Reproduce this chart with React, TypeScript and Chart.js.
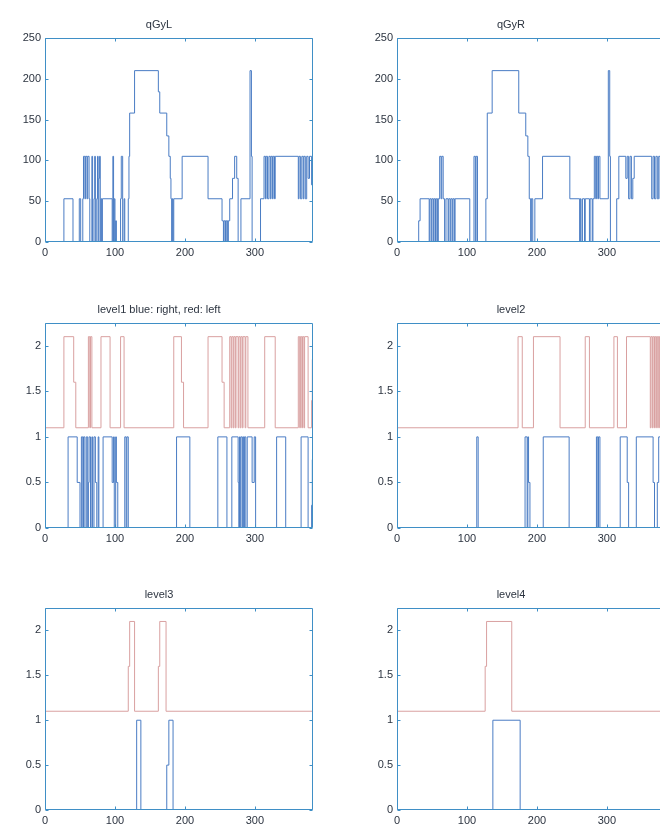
import React, { useEffect, useRef } from "react";
import { Chart, registerables } from "chart.js";

Chart.register(...registerables);

// ---------- data ----------
const X_MAX = 383;
const X_TICKS = [0, 100, 200, 300];
const Q_TICKS = [0, 50, 100, 150, 200, 250];
const LEVEL_TICKS = [0, 0.5, 1, 1.5, 2];

// step series: [x where the value starts, value]
const QGYL: [number, number][] = [
  [0, 0], [27, 53], [40, 0], [49, 53], [51, 0], [54, 53], [55, 105], [57, 53], [58, 105], [60, 53],
  [61, 105], [63, 53], [64, 0], [67, 105], [68, 0], [70, 53], [71, 105], [72, 0], [74, 53], [75, 105],
  [76, 0], [77, 78], [78, 105], [79, 0], [80, 53], [81, 0], [82, 53], [96, 0], [97, 105], [98, 0],
  [99, 53], [100, 0], [101, 26], [102, 0], [108, 53], [109, 105], [111, 0], [113, 53], [114, 0],
  [119, 53], [120, 105], [121, 158], [128, 210], [162, 184], [164, 158], [174, 130], [177, 105],
  [179, 78], [180, 53], [181, 0], [182, 53], [183, 0], [184, 53], [196, 105], [233, 53], [253, 26],
  [255, 0], [256, 26], [258, 0], [259, 26], [261, 0], [262, 26], [264, 53], [268, 78], [271, 105],
  [274, 78], [276, 0], [280, 53], [293, 210], [295, 105], [296, 0], [308, 53], [313, 105], [315, 53],
  [316, 105], [318, 53], [320, 105], [322, 53], [323, 105], [325, 53], [326, 105], [328, 53],
  [329, 105], [362, 53], [363, 105], [365, 53], [367, 105], [369, 53], [370, 105], [372, 53],
  [374, 105], [376, 78], [378, 105], [381, 70], [383, 70],
];

const QGYR: [number, number][] = [
  [0, 0], [31, 26], [33, 53], [46, 0], [47, 53], [49, 0], [50, 53], [52, 0], [53, 53], [55, 0],
  [56, 53], [58, 0], [59, 53], [61, 105], [63, 53], [64, 105], [66, 53], [68, 0], [70, 53], [73, 0],
  [74, 53], [76, 0], [77, 53], [79, 0], [80, 53], [82, 0], [83, 53], [104, 0], [110, 105], [112, 0],
  [113, 105], [115, 0], [127, 53], [129, 158], [136, 210], [174, 158], [184, 130], [187, 105],
  [189, 53], [191, 0], [192, 53], [194, 0], [197, 53], [208, 105], [247, 53], [261, 0], [262, 53],
  [263, 0], [265, 53], [268, 0], [269, 53], [275, 0], [276, 53], [279, 0], [280, 53], [282, 105],
  [284, 53], [285, 105], [287, 53], [288, 105], [290, 53], [302, 210], [304, 105], [305, 0],
  [314, 53], [317, 105], [327, 78], [329, 105], [331, 53], [333, 105], [335, 53], [337, 78],
  [339, 105], [364, 53], [366, 105], [368, 53], [370, 105], [372, 53], [374, 105], [376, 53],
  [378, 105], [380, 53], [383, 53],
];

const LEVEL1_LEFT: [number, number][] = [
  [0, 1.1], [27, 2.1], [41, 1.6], [44, 1.1], [62, 2.1], [64, 1.1], [65, 2.1], [67, 1.1], [80, 2.1],
  [93, 1.1], [108, 2.1], [113, 1.1], [184, 2.1], [195, 1.6], [198, 1.1], [233, 2.1], [253, 1.6],
  [256, 1.1], [264, 2.1], [266, 1.1], [267, 2.1], [269, 1.1], [270, 2.1], [272, 1.1], [273, 2.1],
  [276, 1.1], [277, 2.1], [279, 1.1], [280, 2.1], [282, 1.1], [283, 2.1], [286, 1.1], [287, 2.1],
  [290, 1.1], [314, 2.1], [329, 1.1], [362, 2.1], [364, 1.1], [365, 2.1], [367, 1.1], [368, 2.1],
  [370, 1.1], [371, 2.1], [376, 1.1], [381, 1.4], [382, 1.85], [383, 1.85],
];

const LEVEL1_RIGHT: [number, number][] = [
  [0, 0], [33, 1], [46, 0.5], [50, 0], [52, 1], [54, 0], [55, 1], [57, 0], [59, 1], [61, 0],
  [62, 0.5], [63, 1], [65, 0], [67, 1], [68, 0], [70, 1], [72, 0.5], [74, 0], [76, 1], [77, 0],
  [83, 1], [96, 0.5], [98, 1], [99, 0], [101, 1], [102, 0.5], [104, 0], [114, 1], [116, 0],
  [117, 1], [119, 0], [188, 1], [207, 0], [247, 1], [260, 0], [267, 1], [276, 0.5], [277, 0],
  [278, 1], [279, 0], [280, 1], [282, 0], [283, 1], [284, 0], [285, 1], [287, 0], [289, 1],
  [296, 0.5], [299, 1], [301, 0], [331, 1], [344, 0], [366, 1], [376, 0], [381, 0.25],
  [382, 0.75], [383, 0.75],
];

const LEVEL2_LEFT: [number, number][] = [
  [0, 1.1], [173, 2.1], [179, 1.1], [195, 2.1], [233, 1.1], [269, 2.1], [275, 1.1], [310, 2.1],
  [315, 1.1], [328, 2.1], [362, 1.1], [363, 2.1], [365, 1.1], [366, 2.1], [368, 1.1], [369, 2.1],
  [371, 1.1], [372, 2.1], [374, 1.1], [375, 2.1], [383, 2.1],
];

const LEVEL2_RIGHT: [number, number][] = [
  [0, 0], [114, 1], [116, 0], [183, 1], [186, 0], [187, 1], [188, 0.5], [190, 0], [209, 1],
  [246, 0], [285, 1], [287, 0], [288, 1], [290, 0], [319, 1], [329, 0.5], [331, 0], [342, 1],
  [366, 0.5], [368, 0], [372, 0.5], [374, 1], [383, 1],
];

const LEVEL3_LEFT: [number, number][] = [
  [0, 1.1], [119, 1.6], [121, 2.1], [128, 1.1], [162, 1.6], [164, 2.1], [173, 1.1], [383, 1.1],
];

const LEVEL3_RIGHT: [number, number][] = [
  [0, 0], [131, 1], [137, 0], [174, 0.5], [177, 1], [183, 0], [383, 0],
];

const LEVEL4_LEFT: [number, number][] = [
  [0, 1.1], [126, 1.6], [128, 2.1], [164, 1.1], [383, 1.1],
];

const LEVEL4_RIGHT: [number, number][] = [
  [0, 0], [137, 1], [176, 0], [383, 0],
];

// ---------- styles ----------
const FRAME = "#3f8fc6";
const BLUE = "#4a7cc4";
const RED = "#d9a0a0";
const TEXT = "#2c3440";
const FONT = "'Liberation Sans', Arial, sans-serif";

const AX_W = 40;
const TITLE_H = 30;
const X_H = 24;
const RIGHT_PAD = 6;

type Series = { data: [number, number][]; color: string };
type Panel = {
  title: string;
  series: Series[];
  yMax: number;
  yTicks: number[];
  left: number;
  top: number;
  w: number;
  h: number;
};

const PANELS: Panel[] = [
  { title: "qGyL", series: [{ data: QGYL, color: BLUE }], yMax: 250, yTicks: Q_TICKS, left: 45, top: 38, w: 268, h: 204 },
  { title: "qGyR", series: [{ data: QGYR, color: BLUE }], yMax: 250, yTicks: Q_TICKS, left: 397, top: 38, w: 268, h: 204 },
  {
    title: "level1 blue: right, red: left",
    series: [{ data: LEVEL1_LEFT, color: RED }, { data: LEVEL1_RIGHT, color: BLUE }],
    yMax: 2.25, yTicks: LEVEL_TICKS, left: 45, top: 323, w: 268, h: 205,
  },
  {
    title: "level2",
    series: [{ data: LEVEL2_LEFT, color: RED }, { data: LEVEL2_RIGHT, color: BLUE }],
    yMax: 2.25, yTicks: LEVEL_TICKS, left: 397, top: 323, w: 268, h: 205,
  },
  {
    title: "level3",
    series: [{ data: LEVEL3_LEFT, color: RED }, { data: LEVEL3_RIGHT, color: BLUE }],
    yMax: 2.25, yTicks: LEVEL_TICKS, left: 45, top: 608, w: 268, h: 202,
  },
  {
    title: "level4",
    series: [{ data: LEVEL4_LEFT, color: RED }, { data: LEVEL4_RIGHT, color: BLUE }],
    yMax: 2.25, yTicks: LEVEL_TICKS, left: 397, top: 608, w: 268, h: 202,
  },
];

const framePlugin = {
  id: "matlabFrame",
  afterDatasetsDraw(chart: any, _args: any, opts: any) {
    const { ctx, chartArea: a, scales } = chart;
    ctx.save();
    ctx.strokeStyle = FRAME;
    ctx.lineWidth = 1;
    const l = Math.round(a.left) + 0.5;
    const r = Math.round(a.right) - 0.5;
    const t = Math.round(a.top) + 0.5;
    const b = Math.round(a.bottom) - 0.5;
    ctx.beginPath();
    ctx.rect(l, t, r - l, b - t);
    ctx.stroke();
    const tl = 3;
    ctx.beginPath();
    for (const v of opts.xTicks as number[]) {
      const px = Math.round(scales.x.getPixelForValue(v)) + 0.5;
      ctx.moveTo(px, b);
      ctx.lineTo(px, b - tl);
      ctx.moveTo(px, t);
      ctx.lineTo(px, t + tl);
    }
    for (const v of opts.yTicks as number[]) {
      const py = Math.round(scales.y.getPixelForValue(v)) + 0.5;
      ctx.moveTo(l, py);
      ctx.lineTo(l + tl, py);
      ctx.moveTo(r, py);
      ctx.lineTo(r - tl, py);
    }
    ctx.stroke();
    ctx.restore();
  },
};

function SubPlot({ p }: { p: Panel }) {
  const ref = useRef<HTMLCanvasElement | null>(null);
  const cw = AX_W + p.w + RIGHT_PAD;
  const ch = TITLE_H + p.h + X_H;

  useEffect(() => {
    if (!ref.current) return;
    const chart = new Chart(ref.current, {
      type: "line",
      data: {
        datasets: p.series.map((s) => ({
          data: s.data.map(([x, y]) => ({ x, y })),
          borderColor: s.color,
          backgroundColor: s.color,
          borderWidth: 1,
          pointRadius: 0,
          stepped: "before" as const,
          fill: false,
        })),
      },
      options: {
        responsive: false,
        animation: false,
        devicePixelRatio: 1,
        layout: { padding: { top: 0, left: 0, right: RIGHT_PAD, bottom: 0 } },
        plugins: {
          legend: { display: false },
          tooltip: { enabled: false },
          title: {
            display: true,
            text: p.title,
            color: TEXT,
            font: { family: FONT, size: 11, weight: "normal" },
            padding: { top: 10, bottom: 6.8 },
          },
          matlabFrame: { xTicks: X_TICKS, yTicks: p.yTicks },
        } as any,
        scales: {
          x: {
            type: "linear",
            min: 0,
            max: X_MAX,
            afterFit: (s: any) => {
              s.height = X_H;
            },
            afterBuildTicks: (s: any) => {
              s.ticks = X_TICKS.map((v) => ({ value: v }));
            },
            ticks: {
              autoSkip: false,
              maxRotation: 0,
              padding: 4,
              color: TEXT,
              font: { family: FONT, size: 11 },
              callback: (v: any) => String(v),
            },
            grid: { display: false, drawTicks: false },
            border: { display: false },
          },
          y: {
            type: "linear",
            min: 0,
            max: p.yMax,
            afterFit: (s: any) => {
              s.width = AX_W;
            },
            afterBuildTicks: (s: any) => {
              s.ticks = p.yTicks.map((v) => ({ value: v }));
            },
            ticks: {
              autoSkip: false,
              padding: 4,
              color: TEXT,
              font: { family: FONT, size: 11 },
              callback: (v: any) => String(v),
            },
            grid: { display: false, drawTicks: false },
            border: { display: false },
          },
        },
      },
      plugins: [framePlugin],
    });
    return () => chart.destroy();
  }, [p]);

  return (
    <canvas
      ref={ref}
      width={cw}
      height={ch}
      style={{
        position: "absolute",
        left: p.left - AX_W,
        top: p.top - TITLE_H,
        width: cw,
        height: ch,
        display: "block",
      }}
    />
  );
}

export default function App() {
  return (
    <div
      style={{
        position: "absolute",
        left: 0,
        top: 0,
        width: 660,
        height: 830,
        overflow: "hidden",
        background: "#ffffff",
      }}
    >
      {PANELS.map((p) => (
        <SubPlot key={p.title} p={p} />
      ))}
    </div>
  );
}
